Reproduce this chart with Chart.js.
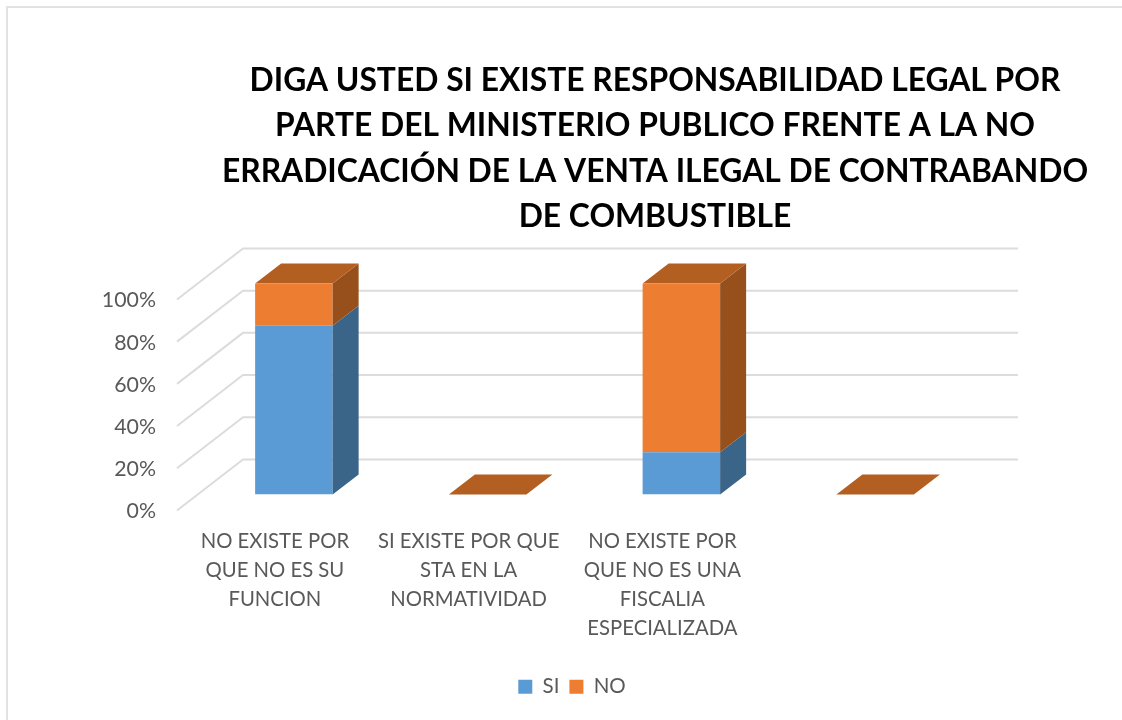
<!DOCTYPE html>
<html>
<head>
<meta charset="utf-8">
<script src="https://cdn.jsdelivr.net/npm/chart.js@4"></script>
<style>
  body { margin: 0; background: #fff; }
  #box { position: relative; width: 1122px; height: 720px; overflow: hidden; }
  #frame { position: absolute; left: 6px; top: 6px; right: -4px; bottom: -4px; border: 2px solid #e2e2e2; }
  canvas { position: absolute; left: 0; top: 0; }
</style>
</head>
<body>
<div id="box">
  <div id="frame"></div>
  <canvas id="canvas" width="1122" height="720"></canvas>
</div>
<script>
// Du lieu doc tu hinh
const categories = [
  ['NO EXISTE POR', 'QUE NO ES SU', 'FUNCION'],
  ['SI EXISTE POR QUE', 'STA EN LA', 'NORMATIVIDAD'],
  ['NO EXISTE POR', 'QUE NO ES UNA', 'FISCALIA', 'ESPECIALIZADA'],
  ''
];
const siValues = [80, 0, 20, 0];
const noValues = [20, 0, 80, 0];
const titleLines = [
  'DIGA USTED SI EXISTE RESPONSABILIDAD LEGAL POR',
  'PARTE DEL MINISTERIO PUBLICO FRENTE A LA NO',
  'ERRADICACIÓN DE LA VENTA ILEGAL DE CONTRABANDO',
  'DE COMBUSTIBLE'
];

const gray = '#595959';
const gridColor = '#dcdcdc';
const blue = '#5B9BD5', blueSide = '#3A6588';
const orange = '#ED7D31', orangeSide = '#97501B', orangeTop = '#B45F22';

// Do sau gia 3D
const barDepth = { x: 26, y: 20 };
const wallDepth = { x: 46, y: 35 };
const floorFront = { x: -20, y: 16 };

function poly(ctx, pts, color) {
  ctx.fillStyle = color;
  ctx.beginPath();
  pts.forEach((p, i) => i ? ctx.lineTo(p[0], p[1]) : ctx.moveTo(p[0], p[1]));
  ctx.closePath();
  ctx.fill();
}

const fake3d = {
  id: 'fake3d',
  beforeDraw(chart) {
    // Tieu de va chu thich lech so voi tam canvas
    const t = chart.titleBlock, l = chart.legend;
    const tShift = 655 - (t.left + t.right) / 2;
    t.left += tShift; t.right += tShift;
    const lShift = 572 - (l.left + l.right) / 2;
    l.left += lShift; l.right += lShift;
  },
  beforeDatasetsDraw(chart) {
    const { ctx, scales: { x, y } } = chart;
    const left = x.left, right = x.right;
    ctx.save();
    ctx.strokeStyle = gridColor;
    ctx.lineWidth = 2;
    y.ticks.forEach(t => {
      const py = y.getPixelForValue(t.value);
      ctx.beginPath();
      ctx.moveTo(left + floorFront.x, py + floorFront.y);
      ctx.lineTo(left + wallDepth.x, py - wallDepth.y);
      ctx.lineTo(right + wallDepth.x, py - wallDepth.y);
      ctx.stroke();
    });
    ctx.restore();
  },
  afterDatasetsDraw(chart) {
    const { ctx } = chart;
    const dx = barDepth.x, dy = barDepth.y;
    ctx.save();
    [[0, blueSide], [1, orangeSide]].forEach(([idx, side]) => {
      chart.getDatasetMeta(idx).data.forEach(bar => {
        const r = bar.x + bar.width / 2;
        if (Math.abs(bar.base - bar.y) < 0.5) return;
        poly(ctx, [[r, bar.y], [r + dx, bar.y - dy], [r + dx, bar.base - dy], [r, bar.base]], side);
      });
    });
    // mat tren cua cot, ke ca cot bang 0
    chart.getDatasetMeta(1).data.forEach(bar => {
      const l = bar.x - bar.width / 2, r = bar.x + bar.width / 2;
      poly(ctx, [[l, bar.y], [r, bar.y], [r + dx, bar.y - dy], [l + dx, bar.y - dy]], orangeTop);
    });
    ctx.restore();
  }
};

const data = {
  labels: categories,
  datasets: [
    { label: 'SI', data: siValues, backgroundColor: blue },
    { label: 'NO', data: noValues, backgroundColor: orange }
  ]
};

const config = {
  type: 'bar',
  data: data,
  plugins: [fake3d],
  options: {
    responsive: false,
    animation: false,
    barPercentage: 0.4,
    categoryPercentage: 1,
    layout: { padding: { top: 40, right: 150, bottom: 13, left: 0 } },
    plugins: {
      tooltip: { enabled: false },
      title: {
        display: true,
        text: titleLines,
        color: '#000',
        font: { family: 'Lato', size: 31.8, weight: 'bold', lineHeight: 1.42 },
        padding: { top: 18.5, bottom: 44.3 }
      },
      legend: {
        position: 'bottom',
        labels: {
          boxWidth: 14,
          boxHeight: 14,
          padding: 10,
          color: gray,
          font: { family: 'Lato', size: 20.5 }
        }
      }
    },
    scales: {
      x: {
        stacked: true,
        grid: { display: false },
        border: { display: false },
        afterFit(s) { s.height = 172; },
        ticks: {
          color: gray,
          padding: 24,
          labelOffset: -19,
          maxRotation: 0,
          autoSkip: false,
          font: { family: 'Lato', size: 20.3, lineHeight: 1.44 }
        }
      },
      y: {
        stacked: true,
        min: 0,
        max: 100,
        grid: { display: false },
        border: { display: false },
        afterFit(s) { s.width = 197; },
        ticks: {
          stepSize: 20,
          color: gray,
          padding: 33,
          labelOffset: 17,
          font: { family: 'Lato', size: 21.3 },
          callback: v => v + '%'
        }
      }
    }
  }
};

const canvas = document.getElementById('canvas');
const chart = new Chart(canvas, config);
</script>
</body>
</html>
